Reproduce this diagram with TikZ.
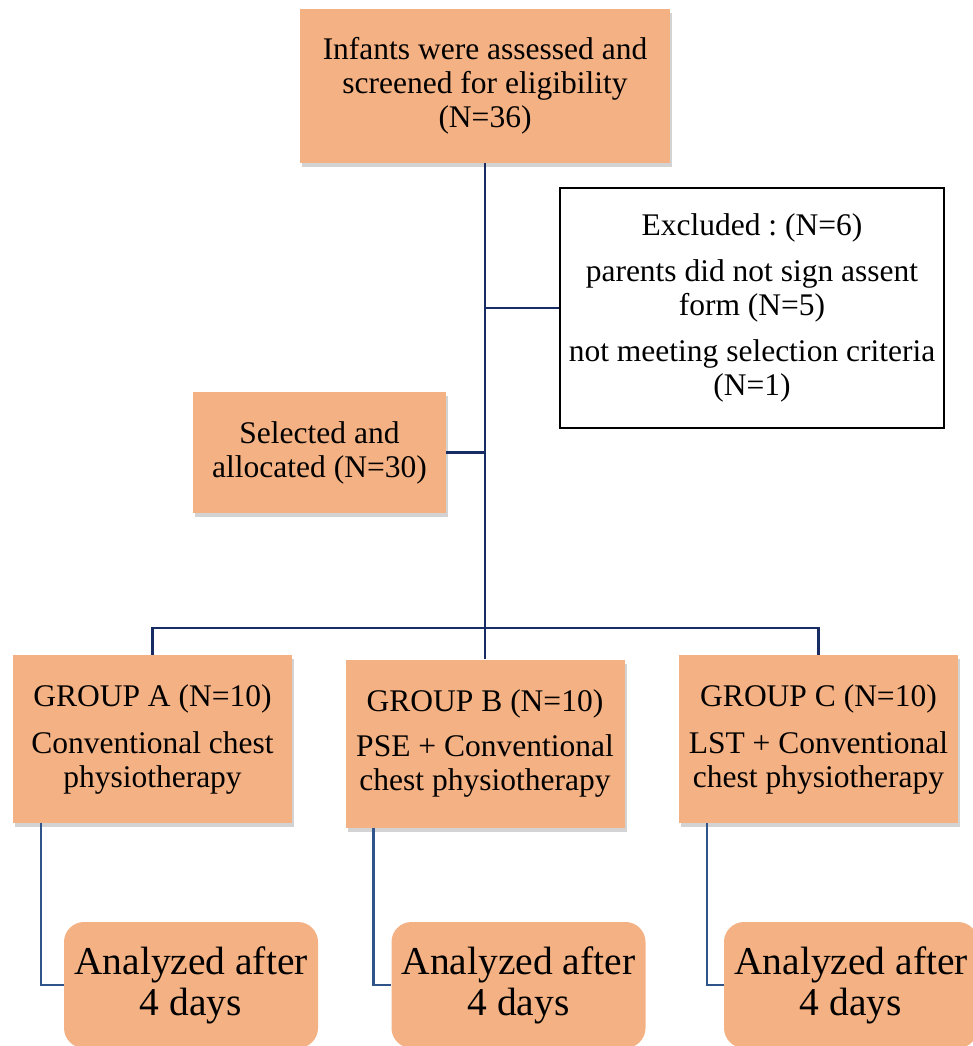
\documentclass[tikz,border=0pt]{standalone}
\usepackage{fontspec}
\setmainfont{Liberation Serif}
\usetikzlibrary{shadows}
\definecolor{boxorange}{RGB}{244,177,131}
\definecolor{linenavy}{RGB}{22,44,98}
\definecolor{lineblue}{RGB}{46,84,138}
\begin{document}
\begin{tikzpicture}[x=1pt,y=-1pt,
        orangebox/.style={fill=boxorange, align=center, inner sep=0pt,
            font=\fontsize{31.5}{34}\selectfont,
            drop shadow={shadow xshift=2pt, shadow yshift=-4pt, opacity=0.35}},
        groupbox/.style={orangebox, minimum width=279pt, minimum height=168pt},
        resultbox/.style={fill=boxorange, align=center, inner sep=0pt, rounded corners=20pt,
            minimum width=254pt, minimum height=126pt, font=\fontsize{39.5}{41}\selectfont},
        navyline/.style={draw=linenavy, line width=2.8pt},
        blueline/.style={draw=lineblue, line width=2.4pt}]
    \useasboundingbox (0,0) rectangle (973,1046);
    % enrolment
    \node[orangebox, minimum width=370pt, minimum height=154pt] (screen) at (485,86)
        {Infants were assessed and\\ screened for eligibility\\ (N=36)};
    \node[draw=black, line width=1.6pt, fill=white, align=center, inner sep=0pt,
        minimum width=384pt, minimum height=240pt, font=\fontsize{31.5}{34}\selectfont] (excluded) at (752,308)
        {\frenchspacing Excluded : (N=6)\\[12pt] parents did not sign assent\\ form (N=5)\\[12pt] not meeting selection criteria\\ (N=1)};
    \node[orangebox, minimum width=253pt, minimum height=121pt] (selected) at (319.5,452.5)
        {Selected and\\ allocated (N=30)};
    \coordinate (split) at (485,628);
    % groups
    \node[groupbox] (groupA) at (152.5,739) {GROUP A (N=10)\\[13pt] Conventional chest\\ physiotherapy};
    \node[groupbox] (groupB) at (485,743.5) {GROUP B (N=10)\\[11pt] PSE + Conventional\\ chest physiotherapy};
    \node[groupbox] (groupC) at (818.5,739) {GROUP C (N=10)\\[13pt] LST + Conventional\\ chest physiotherapy};
    % analysis
    \node[resultbox] (resultA) at (191,985) {Analyzed after\\ 4 days};
    \node[resultbox] (resultB) at (518.5,985) {Analyzed after\\ 4 days};
    \node[resultbox] (resultC) at (851,985) {Analyzed after\\ 4 days};
    % connectors
    \draw[navyline] (screen.south) -- (split) -- (groupB.north);
    \draw[navyline] (screen.south |- excluded.west) -- (excluded.west);
    \draw[navyline] (selected.east) -- (selected.east -| screen.south);
    \draw[navyline] (groupA.north) |- (split) -| (groupC.north);
    \draw[blueline] ([xshift=28pt]groupA.south west) |- (resultA.west);
    \draw[blueline] ([xshift=28pt]groupB.south west) |- (resultB.west);
    \draw[blueline] ([xshift=28pt]groupC.south west) |- (resultC.west);
\end{tikzpicture}
\end{document}
